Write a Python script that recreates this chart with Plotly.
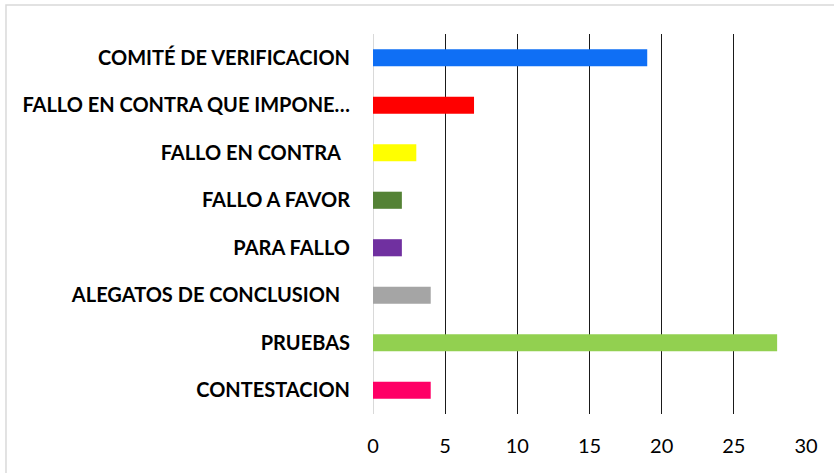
import plotly.graph_objects as go

categories = [
    "CONTESTACION",
    "PRUEBAS",
    "ALEGATOS DE CONCLUSION\u00a0\u00a0",
    "PARA FALLO",
    "FALLO A FAVOR",
    "FALLO EN CONTRA\u00a0\u00a0",
    "FALLO EN CONTRA QUE IMPONE…",
    "COMITÉ DE VERIFICACION",
]
values = [4, 28, 4, 2, 2, 3, 7, 19]
colors = ["#FF0066", "#92D050", "#A5A5A5", "#7030A0", "#548235", "#FFFF00", "#FF0000", "#0F6FF5"]
x_ticks = [0, 5, 10, 15, 20, 25, 30]

fig = go.Figure(go.Bar(
    x=values, y=categories, orientation="h",
    marker=dict(color=colors, line=dict(width=0)),
    width=0.36,
))

fig.update_layout(
    width=834, height=473,
    margin=dict(l=373, r=28, t=34, b=59),
    paper_bgcolor="white", plot_bgcolor="white",
    showlegend=False,
    shapes=[dict(type="rect", xref="paper", yref="paper",
                 x0=-0.8476, x1=2, y0=-0.5, y1=1.0763,
                 line=dict(color="#D9D9D9", width=1.5), layer="below")],
)
fig.update_xaxes(
    range=[0, 30], tickvals=x_ticks, showgrid=True, gridcolor="#1a1a1a", gridwidth=1.3,
    zeroline=True, zerolinecolor="#D9D9D9", zerolinewidth=1,
    showline=False, ticks="", ticklabelstandoff=18,
    tickfont=dict(family="Lato", size=20, color="#000000"),
)
fig.update_yaxes(
    showgrid=False, zeroline=False, showline=False, ticks="",
    ticklabelstandoff=22,
    tickfont=dict(family="Lato", size=20, color="#000000", weight="bold"),
)

fig.write_html("out.html", config={"displayModeBar": False},
               post_script="document.body.style.margin='0';")
